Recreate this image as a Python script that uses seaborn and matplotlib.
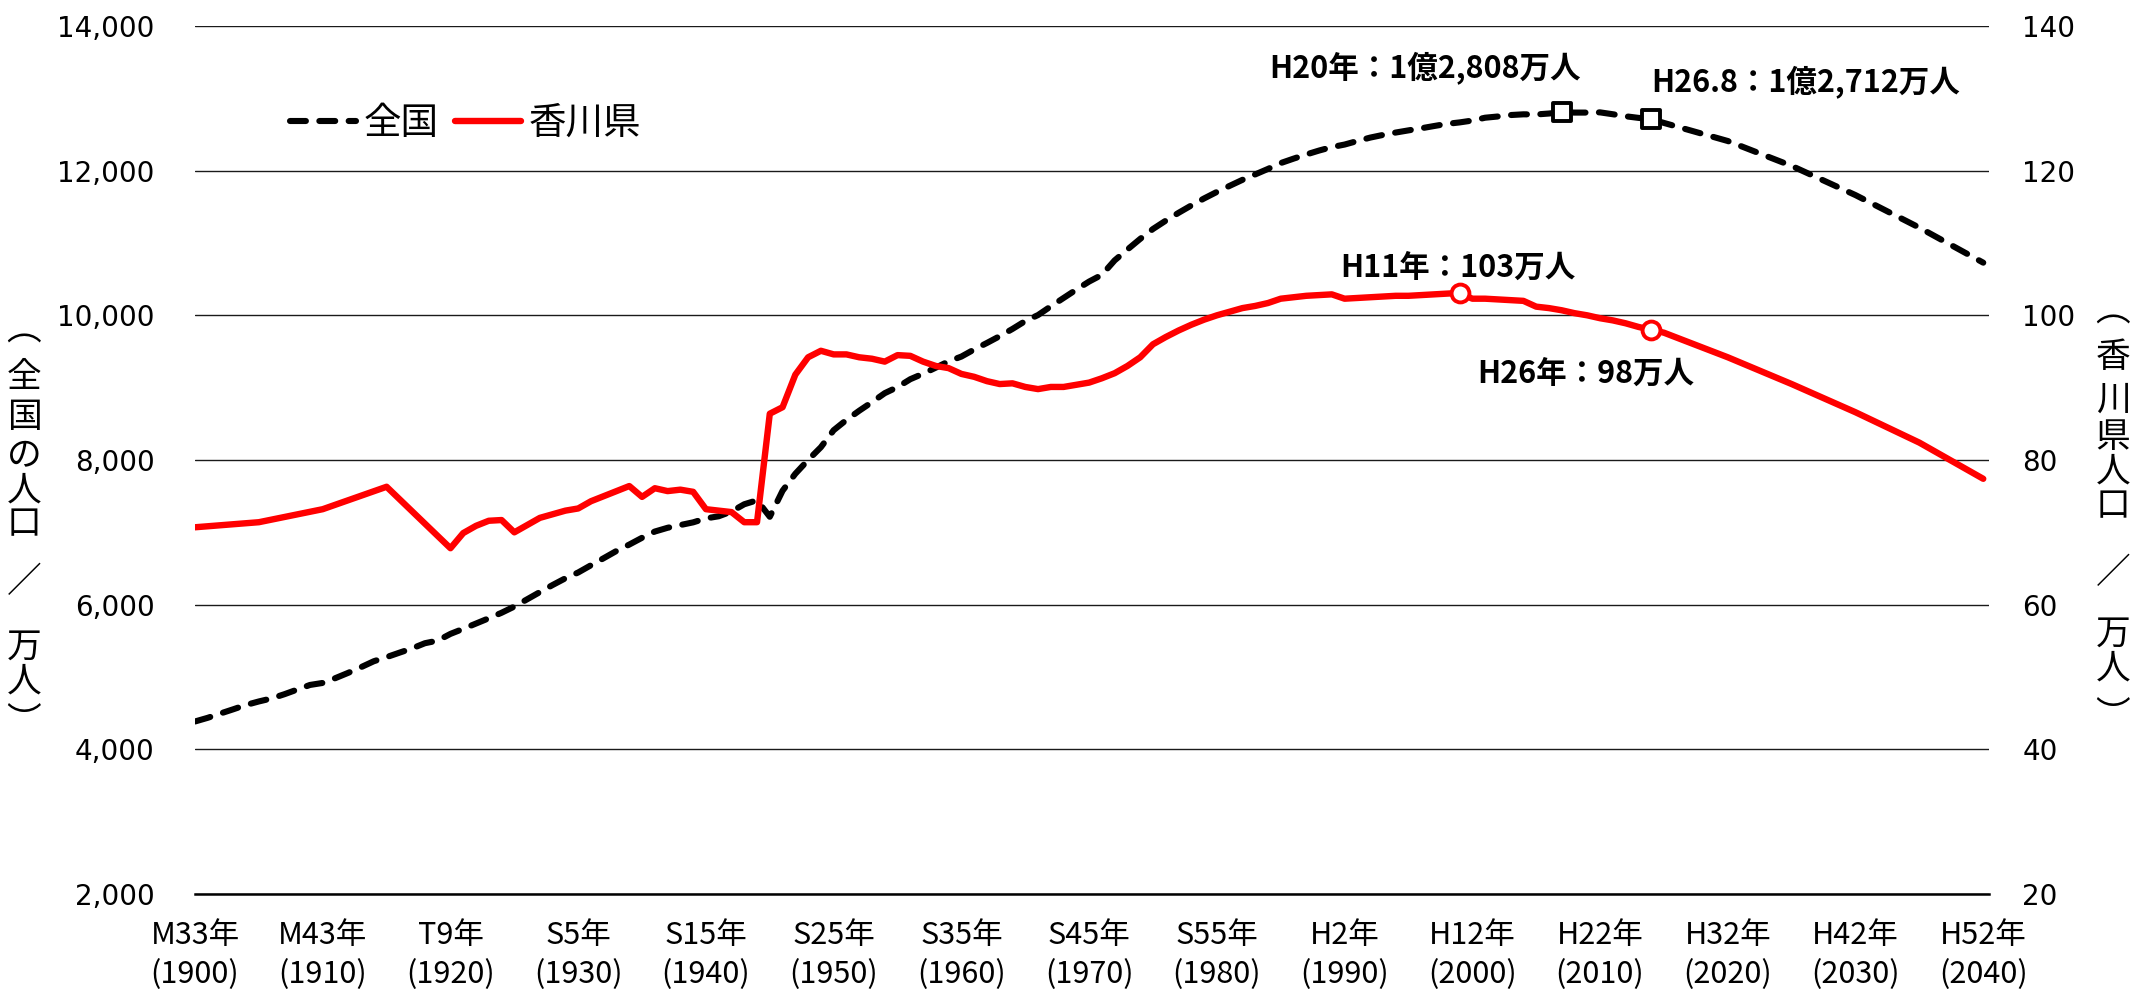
import matplotlib
matplotlib.use("Agg")
import seaborn as sns
from matplotlib import pyplot as plt
from matplotlib import font_manager

# 全国の人口（万人）: 1900-2014 は毎年, 以降は推計
jp_years = list(range(1900, 2015)) + [2015, 2020, 2025, 2030, 2035, 2040]
jp_pop = [4385, 4436, 4496, 4554, 4614, 4662, 4704, 4762, 4826, 4890,
          4918, 4985, 5058, 5136, 5218, 5275, 5336, 5396, 5467, 5503,
          5596, 5666, 5739, 5812, 5888, 5974, 6074, 6174, 6272, 6365,
          6445, 6545, 6643, 6743, 6831, 6925, 7011, 7063, 7101, 7138,
          7193, 7222, 7288, 7388, 7443, 7215, 7575, 7810, 8000, 8177,
          8412, 8554, 8681, 8800, 8924, 9008, 9117, 9193, 9277, 9364,
          9430, 9528, 9618, 9712, 9812, 9921, 10004, 10124, 10240, 10356,
          10467, 10560, 10760, 10910, 11057, 11194, 11309, 11417, 11519, 11616,
          11706, 11790, 11873, 11948, 12024, 12105, 12166, 12224, 12278, 12326,
          12361, 12410, 12457, 12494, 12527, 12557, 12586, 12617, 12647, 12667,
          12693, 12732, 12749, 12769, 12779, 12777, 12790, 12808, 12803, 12803,
          12806, 12780, 12752, 12730, 12712,
          12660, 12410, 12066, 11662, 11212, 10728]

# 香川県の人口（万人）
kg_years = [1900, 1905, 1910, 1915] + list(range(1920, 2016)) + [2020, 2025, 2030, 2035, 2040]
kg_pop = [70.7, 71.4, 73.2, 76.3,
          67.8, 69.9, 70.9, 71.6, 71.7, 70.0, 71.0, 72.0, 72.5, 73.0,
          73.3, 74.3, 75.0, 75.7, 76.4, 74.9, 76.1, 75.7, 75.9, 75.6,
          73.2, 73.0, 72.8, 71.4, 71.4, 86.4, 87.3, 91.8, 94.2, 95.1,
          94.6, 94.6, 94.2, 94.0, 93.6, 94.5, 94.4, 93.6, 93.0, 92.7,
          91.9, 91.5, 90.9, 90.5, 90.6, 90.1, 89.8, 90.1, 90.1, 90.4,
          90.7, 91.3, 92.0, 93.0, 94.2, 96.0, 97.0, 97.9, 98.7, 99.4,
          100.0, 100.5, 101.0, 101.3, 101.7, 102.3, 102.5, 102.7, 102.8, 102.9,
          102.3, 102.4, 102.5, 102.6, 102.7, 102.7, 102.8, 102.9, 103.0, 103.1,
          102.3, 102.3, 102.2, 102.1, 102.0, 101.2, 101.0, 100.7, 100.3, 100.0,
          99.6, 99.3, 98.9, 98.4, 98.0, 97.6,
          94.2, 90.5, 86.6, 82.4, 77.4]

jp_mark_years = [2007, 2014]
jp_mark_pop = [12808, 12712]
jp_mark_text = ["H20年：1億2,808万人", "H26.8：1億2,712万人"]
kg_mark_years = [1999, 2014]
kg_mark_pop = [103.1, 98.0]
kg_mark_text = ["H11年：103万人", "H26年：98万人"]

tick_years = list(range(1900, 2041, 10))
tick_era = ["M33年", "M43年", "T9年", "S5年", "S15年", "S25年", "S35年", "S45年",
            "S55年", "H2年", "H12年", "H22年", "H32年", "H42年", "H52年"]
left_ticks = list(range(2000, 14001, 2000))
right_ticks = list(range(20, 141, 20))

sns.set_style("white")
JP = "Noto Sans CJK JP"
names = {f.name for f in font_manager.fontManager.ttflist}
narrow = "Liberation Sans Narrow" if "Liberation Sans Narrow" in names else JP
plt.rcParams['font.family'] = ['DejaVu Sans', JP]
plt.rcParams['text.color'] = 'black'
plt.rcParams['xtick.color'] = 'black'
plt.rcParams['ytick.color'] = 'black'

W, H = 2134, 992
fig = plt.figure(figsize=(W / 100, H / 100), dpi=100)
ax = fig.add_axes([195 / W, 98 / H, 1794 / W, 868 / H])
ax2 = ax.twinx()

sns.lineplot(x=jp_years, y=jp_pop, ax=ax, color="black", lw=4.4, legend=False)
jp_line = ax.lines[-1]
jp_line.set_linestyle((0, (2.6, 2.2)))
jp_line.set_dash_capstyle("round")
sns.scatterplot(x=jp_mark_years, y=jp_mark_pop, ax=ax, marker="s", s=165,
                color="white", edgecolor="black", linewidth=2.8, zorder=5, legend=False)

sns.lineplot(x=kg_years, y=kg_pop, ax=ax2, color="#ff0000", lw=4.6, legend=False)
kg_line = ax2.lines[-1]
kg_line.set_solid_capstyle("round")
kg_line.set_solid_joinstyle("round")
sns.scatterplot(x=kg_mark_years, y=kg_mark_pop, ax=ax2, marker="o", s=165,
                color="white", edgecolor="#ff0000", linewidth=2.8, zorder=5, legend=False)

ax.set_xlim(1900, 2040.45)
ax.set_ylim(2000, 14000)
ax2.set_ylim(20, 140)

ax.set_xticks(tick_years)
ax.set_xticklabels([f"{e}\n({y})" for e, y in zip(tick_era, tick_years)],
                   fontfamily=[narrow, JP], fontsize=22, linespacing=1.3)
ax.set_xticks(list(range(1905, 2040, 10)), minor=True)
ax.tick_params(axis="x", which="both", direction="in", length=7, width=1.3,
               color="black", pad=19)

ax.set_yticks(left_ticks)
ax.set_yticklabels([f"{v:,}" for v in left_ticks])
ax.tick_params(axis="y", length=0, pad=29, labelsize=20)
ax2.set_yticks(right_ticks)
ax2.set_yticklabels([str(v) for v in right_ticks])
ax2.tick_params(axis="y", length=0, pad=24, labelsize=20)

ax.grid(axis="y", color="#1a1a1a", lw=1.0)
ax.grid(axis="x", visible=False)
ax.set_axisbelow(True)
for s in ["left", "right", "top"]:
    ax.spines[s].set_visible(False)
    ax2.spines[s].set_visible(False)
ax2.spines["bottom"].set_visible(False)
ax.spines["bottom"].set_color("black")
ax.spines["bottom"].set_linewidth(1.8)
ax.set_xlabel("")
ax.set_ylabel("")
ax2.set_ylabel("")

# 注記
ann = dict(textcoords="offset points", va="center", fontsize=22, color="black",
           fontweight="bold", family=[narrow, JP])
ax.annotate(jp_mark_text[0], (jp_mark_years[0], jp_mark_pop[0]), xytext=(14, 31), ha="right", **ann)
ax.annotate(jp_mark_text[1], (jp_mark_years[1], jp_mark_pop[1]), xytext=(0, 26), ha="left", **ann)
ax2.annotate(kg_mark_text[0], (kg_mark_years[0], kg_mark_pop[0]), xytext=(-1, 18), ha="center", **ann)
ax2.annotate(kg_mark_text[1], (kg_mark_years[1], kg_mark_pop[1]), xytext=(-47, -32), ha="center", **ann)

ax2.legend([jp_line, kg_line], ["全国", "香川県"], loc="center left",
           bbox_to_anchor=(0.053, 0.888), ncol=2, frameon=False,
           prop={"family": JP, "size": 27}, handlelength=1.75,
           handletextpad=0.2, columnspacing=0.45, borderpad=0, borderaxespad=0)

# 縦書きの軸ラベル
left_chars = ["︵", "全", "国", "の", "人", "口", "／", "万", "人", "︶"]
left_y = [330, 377, 418, 457, 491, 525, 583, 647, 682, 723]
right_chars = ["︵", "香", "川", "県", "人", "口", "／", "万", "人", "︶"]
right_y = [311, 358, 400, 437, 472, 507, 574, 634, 669, 716]
for ch, y in zip(left_chars, left_y):
    fig.text(24 / W, 1 - y / H, ch, ha="center", va="center", fontsize=25, family=JP)
for ch, y in zip(right_chars, right_y):
    fig.text(2113 / W, 1 - y / H, ch, ha="center", va="center", fontsize=25, family=JP)

fig.savefig("out.png", dpi=100)
